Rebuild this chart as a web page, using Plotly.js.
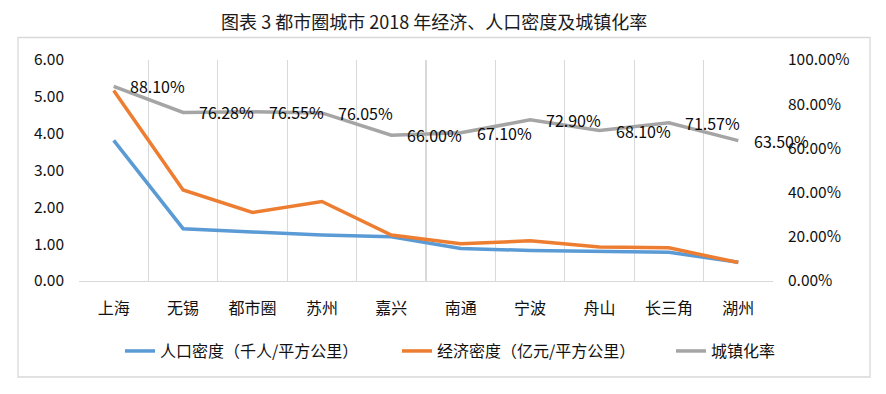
<!DOCTYPE html>
<html>
<head>
<meta charset="utf-8">
<script src="https://cdn.plot.ly/plotly-3.0.1.min.js"></script>
<style>html,body{margin:0;padding:0;background:#fff;}#chart{width:886px;height:394px;}</style>
</head>
<body>
<div id="chart"></div>
<script>
var cities = ['上海','无锡','都市圈','苏州','嘉兴','南通','宁波','舟山','长三角','湖州'];
var popDensity = [3.82, 1.42, 1.33, 1.25, 1.20, 0.88, 0.83, 0.81, 0.78, 0.51];
var econDensity = [5.17, 2.47, 1.86, 2.16, 1.25, 1.01, 1.09, 0.92, 0.90, 0.50];
var urbanRate = [88.10, 76.28, 76.55, 76.05, 66.00, 67.10, 72.90, 68.10, 71.57, 63.50];
var seriesNames = ['人口密度（千人/平方公里）', '经济密度（亿元/平方公里）', '城镇化率'];
var chartTitle = '图表 3 都市圈城市 2018 年经济、人口密度及城镇化率';

var FONT = '"Noto Sans CJK SC", "Noto Sans", sans-serif';
var TXT = '#111111';

var traces = [
  {x: cities, y: popDensity, name: seriesNames[0], type: 'scatter', mode: 'lines',
   line: {color: '#5B9BD5', width: 3.5}, yaxis: 'y', legend: 'legend'},
  {x: cities, y: econDensity, name: seriesNames[1], type: 'scatter', mode: 'lines',
   line: {color: '#ED7D31', width: 3.5}, yaxis: 'y', legend: 'legend2'},
  {x: cities, y: urbanRate, name: seriesNames[2], type: 'scatter', mode: 'lines',
   line: {color: '#A5A5A5', width: 3.5}, yaxis: 'y2', legend: 'legend3'}
];

var annotations = cities.map(function(c, i){
  return {x: c, y: urbanRate[i], xref: 'x', yref: 'y2', text: urbanRate[i].toFixed(2) + '%',
    showarrow: false, xanchor: 'left', yanchor: 'middle', xshift: 14,
    font: {family: FONT, size: 16, color: '#0a0a0a'}};
});

function leg(x) {
  return {orientation: 'h', x: x, xanchor: 'left', y: -0.317, yanchor: 'middle',
    bgcolor: 'rgba(0,0,0,0)', font: {family: FONT, size: 16, color: TXT}};
}

var layout = {
  width: 886, height: 394,
  margin: {l: 79, r: 113, t: 60, b: 113},
  paper_bgcolor: '#fff', plot_bgcolor: '#fff',
  font: {family: FONT, color: TXT, size: 15},
  title: {text: chartTitle, x: 0.49, xref: 'container', xanchor: 'center', y: 0.942, yref: 'container', yanchor: 'middle',
    font: {family: FONT, size: 18, color: '#1a1a1a'}},
  xaxis: {type: 'category', tickson: 'boundaries', showgrid: true, gridcolor: '#d9d9d9', gridwidth: 1.3,
    showline: true, linecolor: '#d9d9d9', linewidth: 1.3, ticks: '', ticklabelstandoff: 12,
    tickfont: {family: FONT, size: 16, color: TXT}, range: [-0.5, 9.5], fixedrange: true},
  yaxis: {range: [0, 6], dtick: 1, tickformat: '.2f', showgrid: false, zeroline: false, showline: false,
    ticklabelstandoff: 14, tickfont: {family: FONT, size: 15.5, color: TXT}},
  yaxis2: {range: [0, 100], dtick: 20, tickformat: '.2f', ticksuffix: '%', overlaying: 'y', side: 'right',
    showgrid: false, zeroline: false, showline: false, ticklabelstandoff: 14,
    tickfont: {family: FONT, size: 15.5, color: TXT}},
  showlegend: true,
  legend: leg(0.0591),
  legend2: leg(0.4582),
  legend3: leg(0.8530),
  annotations: annotations,
  shapes: [{type: 'rect', xref: 'paper', yref: 'paper', x0: -0.0879, x1: 1.1398, y0: -0.4344, y1: 1.1018,
    line: {color: '#d9d9d9', width: 1.3}, fillcolor: 'rgba(0,0,0,0)', layer: 'below'}]
};

Plotly.newPlot('chart', traces, layout, {staticPlot: true});
</script>
</body>
</html>
